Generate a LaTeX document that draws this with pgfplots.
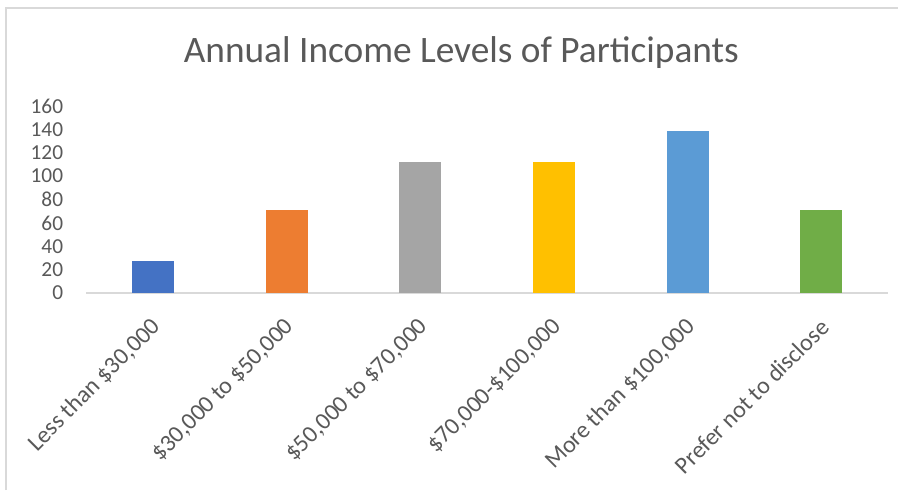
\documentclass[border=0pt]{standalone}
\usepackage{fontspec}
\setmainfont{Carlito}
\usepackage{pgfplots}
\pgfplotsset{compat=1.18}
\definecolor{cA}{HTML}{4472C4}
\definecolor{cB}{HTML}{ED7D31}
\definecolor{cC}{HTML}{A5A5A5}
\definecolor{cD}{HTML}{FFC000}
\definecolor{cE}{HTML}{5B9BD5}
\definecolor{cF}{HTML}{70AD47}
\definecolor{txt}{HTML}{595959}
\definecolor{lgray}{HTML}{D9D9D9}
\begin{document}
\begin{tikzpicture}
\useasboundingbox (0,0) rectangle (673.5pt,367.5pt);
\fill[white] (0,0) rectangle (673.5pt,367.5pt);
\draw[lgray, line width=1.5pt] (4.5pt,0) -- (4.5pt,361.5pt) -- (673.5pt,361.5pt);
\node[font=\fontsize{28}{33}\selectfont, text=txt] at (346pt,328pt) {Annual Income Levels of Participants};
\begin{axis}[
  at={(64.5pt,147.75pt)}, anchor=south west,
  scale only axis, width=601.5pt, height=140.25pt,
  xmin=-0.5, xmax=5.5, ymin=0, ymax=160,
  ytick={0,20,...,160},
  xtick={0,1,2,3,4,5},
  xticklabels={{Less than \$30,000},{\$30,000 to \$50,000},{\$50,000 to \$70,000},{\$70,000-\$100,000},{More than \$100,000},{Prefer not to disclose}},
  axis line style={draw=none},
  major tick length=0pt,
  clip=false,
  /pgf/number format/assume math mode=true,
  tick label style={text=txt},
  yticklabel style={font=\fontsize{16}{19}\selectfont, inner sep=0pt, anchor=east, xshift=-17pt},
  xticklabel style={font=\fontsize{18}{21}\selectfont, rotate=45, anchor=east, inner sep=0pt, yshift=-18pt, xshift=-14pt},
  ybar, bar width=31.5pt, bar shift=0pt,
]
\draw[lgray, line width=1.2pt] (axis cs:-0.5,0) -- (axis cs:5.5,0);
\addplot[fill=cA, draw=none] coordinates {(0,27)};
\addplot[fill=cB, draw=none] coordinates {(1,71)};
\addplot[fill=cC, draw=none] coordinates {(2,112)};
\addplot[fill=cD, draw=none] coordinates {(3,112)};
\addplot[fill=cE, draw=none] coordinates {(4,139)};
\addplot[fill=cF, draw=none] coordinates {(5,71)};
\end{axis}
\end{tikzpicture}
\end{document}
